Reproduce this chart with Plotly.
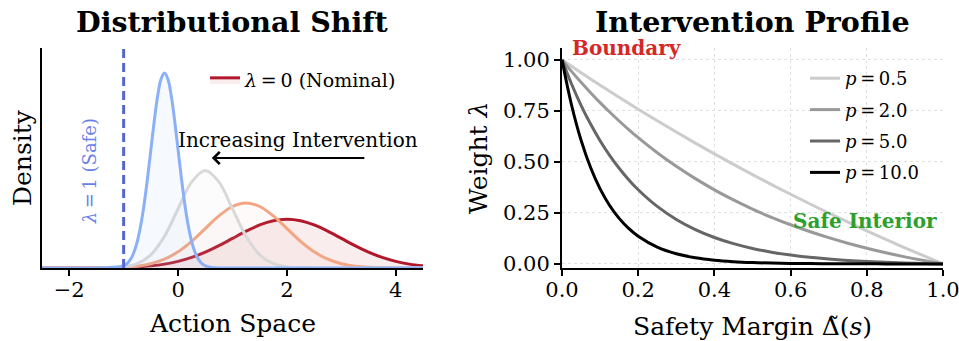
import plotly.graph_objects as go

# ---------------- Left panel data: densities over action space ----------------
RED_X = [-2.5, -1.0, -0.75, -0.5, -0.25, 0.0, 0.25, 0.5, 0.75, 1.0, 1.25, 1.5, 1.75, 2.0,
         2.25, 2.5, 2.75, 3.0, 3.25, 3.5, 3.75, 4.0, 4.25, 4.5]
RED_Y = [0.0, 0.0044, 0.0091, 0.0175, 0.0317, 0.0540, 0.0863, 0.1295, 0.1826, 0.2420, 0.3011,
         0.3521, 0.3867, 0.3989, 0.3867, 0.3521, 0.3011, 0.2420, 0.1826, 0.1295, 0.0863,
         0.0540, 0.0317, 0.0175]

ORANGE_X = [-2.5, -1.0, -0.75, -0.5, -0.25, 0.0, 0.25, 0.5, 0.75, 1.0, 1.25, 1.5, 1.75, 2.0,
            2.25, 2.5, 2.75, 3.0, 3.25, 3.5, 3.75, 4.0, 4.25, 4.5]
ORANGE_Y = [0.0, 0.0059, 0.0152, 0.0349, 0.0720, 0.1327, 0.2187, 0.3227, 0.4259, 0.5032,
            0.5319, 0.5032, 0.4259, 0.3227, 0.2187, 0.1327, 0.0720, 0.0349, 0.0152, 0.0059,
            0.0021, 0.0006, 0.0002, 0.0]

GRAY_X = [-2.5, -1.0, -0.75, -0.5, -0.25, 0.0, 0.25, 0.5, 0.75, 1.0, 1.25, 1.5, 1.75, 2.0,
          2.25, 2.5, 4.5]
GRAY_Y = [0.0, 0.0089, 0.0350, 0.1080, 0.2590, 0.4839, 0.7041, 0.7979, 0.7041, 0.4839,
          0.2590, 0.1080, 0.0350, 0.0089, 0.0017, 0.0003, 0.0]

BLUE_X = [-2.5, -1.0, -0.9375, -0.875, -0.8125, -0.75, -0.6875, -0.625, -0.5625, -0.5, -0.4375,
          -0.375, -0.3125, -0.25, -0.1875, -0.125, -0.0625, 0.0, 0.0625, 0.125, 0.1875, 0.25,
          0.3125, 0.375, 0.4375, 0.5, 0.5625, 0.625, 0.6875, 0.75, 4.5]
BLUE_Y = [0.0, 0.0177, 0.0363, 0.0701, 0.1268, 0.2160, 0.3452, 0.5181, 0.7304, 0.9679, 1.2045,
          1.4083, 1.5468, 1.5958, 1.5468, 1.4083, 1.2045, 0.9679, 0.7304, 0.5181, 0.3452,
          0.2160, 0.1268, 0.0701, 0.0363, 0.0177, 0.0081, 0.0035, 0.0014, 0.0005, 0.0]

SAFE_LINE_X = [-1.0, -1.0]
SAFE_LINE_Y = [0.0, 1.8]

ARROW_TAIL = (3.45, 0.9)
ARROW_HEAD = (0.62, 0.9)

LEFT_XTICKS = [-2, 0, 2, 4]

# ---------------- Right panel data: intervention profiles ----------------
MARGIN_X = [0.0, 0.025, 0.05, 0.075, 0.1, 0.125, 0.15, 0.175, 0.2, 0.25, 0.3, 0.35, 0.4,
            0.45, 0.5, 0.55, 0.6, 0.65, 0.7, 0.75, 0.8, 0.85, 0.9, 0.95, 1.0]
W_P05 = [1.0, 0.9684, 0.9373, 0.9064, 0.8760, 0.8460, 0.8164, 0.7871, 0.7581, 0.7014, 0.6460,
         0.5920, 0.5393, 0.4879, 0.4378, 0.3889, 0.3413, 0.2948, 0.2495, 0.2053, 0.1621,
         0.1201, 0.0790, 0.0390, 0.0]
W_P2 = [1.0, 0.9436, 0.8899, 0.8389, 0.7904, 0.7442, 0.7003, 0.6585, 0.6187, 0.5449, 0.4782,
        0.4178, 0.3631, 0.3137, 0.2689, 0.2284, 0.1918, 0.1587, 0.1287, 0.1015, 0.0770,
        0.0548, 0.0346, 0.0165, 0.0]
W_P5 = [1.0, 0.8817, 0.7773, 0.6852, 0.6039, 0.5321, 0.4688, 0.4129, 0.3636, 0.2817, 0.2179,
        0.1682, 0.1295, 0.0993, 0.0759, 0.0576, 0.0433, 0.0322, 0.0236, 0.0169, 0.0117,
        0.0076, 0.0044, 0.0019, 0.0]
W_P10 = [1.0, 0.7788, 0.6065, 0.4724, 0.3679, 0.2865, 0.2231, 0.1738, 0.1353, 0.0821, 0.0498,
         0.0302, 0.0183, 0.0111, 0.0067, 0.0041, 0.0025, 0.0015, 0.0009, 0.0005, 0.0003,
         0.0002, 0.0001, 0.0, 0.0]
P_LABELS = ["0.5", "2.0", "5.0", "10.0"]
P_COLORS = ["#cccccc", "#999999", "#666666", "#000000"]

RIGHT_XTICKS = [0.0, 0.2, 0.4, 0.6, 0.8, 1.0]
RIGHT_YTICKS = [0.0, 0.25, 0.5, 0.75, 1.0]

FONT = "DejaVu Serif"
W, H = 959, 341
TICK_SIZE = 21
LABEL_SIZE = 25
TITLE_SIZE = 28.5
ANN_SIZE = 20

fig = go.Figure()

# left panel curves (red first, blue on top)
dens = [
    (RED_X, RED_Y, "#b2182b", "rgba(178,24,43,0.08)", True),
    (ORANGE_X, ORANGE_Y, "#f4a582", "rgba(244,165,130,0.05)", False),
    (GRAY_X, GRAY_Y, "#d9d9d9", "rgba(200,200,200,0.06)", False),
    (BLUE_X, BLUE_Y, "#8cb0f8", "rgba(140,176,248,0.08)", False),
]
for xs, ys, col, fcol, show in dens:
    fig.add_trace(go.Scatter(
        x=xs, y=ys, mode="lines", line=dict(color=col, width=3, shape="spline", smoothing=1.0),
        fill="tozeroy", fillcolor=fcol, xaxis="x", yaxis="y",
        name="<i>λ</i>\u2009=\u20090 (Nominal)", showlegend=show, legend="legend",
        hoverinfo="skip"))

fig.add_trace(go.Scatter(
    x=SAFE_LINE_X, y=SAFE_LINE_Y, mode="lines",
    line=dict(color="#5566d0", width=3, dash="9px,5px"),
    xaxis="x", yaxis="y", showlegend=False, hoverinfo="skip"))

# right panel curves
for i, (ys, lab, col) in enumerate(zip([W_P05, W_P2, W_P5, W_P10], P_LABELS, P_COLORS)):
    fig.add_trace(go.Scatter(
        x=MARGIN_X, y=ys, mode="lines", line=dict(color=col, width=3, shape="spline", smoothing=1.0),
        xaxis="x2", yaxis="y2", name=f"<i>p</i>\u2009=\u2009{lab}", legend="legend2",
        legendgroup=f"g{i}", hoverinfo="skip"))

LX = [42 / W, 423 / W]
RX = [562 / W, 943 / W]
YD = [1 - 268 / H, 1 - 48 / H]

axis_common = dict(
    showline=True, linecolor="black", linewidth=2, ticks="outside", ticklen=6, tickwidth=1.5,
    tickcolor="black", tickfont=dict(family=FONT, size=TICK_SIZE, color="black"), zeroline=False,
    mirror=False, automargin=False, ticklabeloverflow="allow",
)

fig.update_layout(
    width=W, height=H, margin=dict(l=0, r=0, t=0, b=0),
    paper_bgcolor="white", plot_bgcolor="white",
    font=dict(family=FONT, color="black"),
    xaxis=dict(domain=LX, range=[-2.5, 4.5], tickvals=LEFT_XTICKS, showgrid=False,
               anchor="y", ticklabelstandoff=-4, **axis_common),
    yaxis=dict(domain=YD, range=[0, 1.8], showticklabels=False, ticks="", showgrid=False,
               showline=True, linecolor="black", linewidth=2, zeroline=False,
               automargin=False, anchor="x"),
    xaxis2=dict(domain=RX, range=[0, 1.0], tickvals=RIGHT_XTICKS, tickformat=".1f",
                showgrid=True, gridcolor="#e0e0e0", griddash="dot", gridwidth=1,
                anchor="y2", ticklabelstandoff=-4, **axis_common),
    yaxis2=dict(domain=YD, range=[-0.02, 1.058], tickvals=RIGHT_YTICKS, tickformat=".2f",
                showgrid=True, gridcolor="#e0e0e0", griddash="dot", gridwidth=1,
                anchor="x2", **axis_common),
    legend=dict(x=205 / W, y=1 - 61 / H, xanchor="left", yanchor="top", bgcolor="rgba(0,0,0,0)",
                font=dict(family=FONT, size=19, color="black")),
    legend2=dict(x=805 / W, y=1 - 60 / H, xanchor="left", yanchor="top", bgcolor="rgba(0,0,0,0)",
                 font=dict(family=FONT, size=18, color="black"), tracegroupgap=5,
                 traceorder="grouped"),
    showlegend=True,
)

def paper_text(text, x, y, size, angle=0, color="black"):
    fig.add_annotation(text=text, x=x / W, y=1 - y / H, xref="paper", yref="paper",
                       xanchor="center", yanchor="middle", showarrow=False, textangle=angle,
                       font=dict(family=FONT, size=size, color=color))

# titles
paper_text("<b>Distributional Shift</b>", 232, 22, TITLE_SIZE)
paper_text("<b>Intervention Profile</b>", 752, 22, TITLE_SIZE)
# axis titles
paper_text("Action Space", 232, 323, LABEL_SIZE)
paper_text("Density", 22, 158, LABEL_SIZE, angle=-90)
paper_text("Safety Margin Δ\u0303(<i>s</i>)", 752, 326, LABEL_SIZE)
paper_text("Weight <i>λ</i>", 478, 158, LABEL_SIZE, angle=-90)

fig.add_annotation(text="Increasing Intervention", x=2.2, y=1.05, xref="x", yref="y",
                   xanchor="center", showarrow=False, font=dict(family=FONT, size=ANN_SIZE, color="black"))
fig.add_annotation(x=ARROW_HEAD[0], y=ARROW_HEAD[1], ax=ARROW_TAIL[0], ay=ARROW_TAIL[1],
                   xref="x", yref="y", axref="x", ayref="y", text="", showarrow=True,
                   arrowhead=4, arrowsize=1.3, arrowwidth=1.8, arrowcolor="black")
fig.add_annotation(text="<i>λ</i>\u2009=\u20091 (Safe)", x=-1.62, y=0.79, xref="x", yref="y",
                   textangle=-90, showarrow=False, font=dict(family=FONT, size=18, color="#6a80e6"))

fig.add_annotation(text="<b>Boundary</b>", x=0.02, y=1 - 48 / H, xref="x2", yref="paper",
                   xanchor="left", yanchor="middle", showarrow=False,
                   font=dict(family=FONT, size=ANN_SIZE, color="#d62728"))
fig.add_annotation(text="<b>Safe Interior</b>", x=0.99, y=0.21, xref="x2", yref="y2",
                   xanchor="right", yanchor="middle", showarrow=False,
                   font=dict(family=FONT, size=ANN_SIZE, color="#2ca02c"))

fig.write_html("out.html")
